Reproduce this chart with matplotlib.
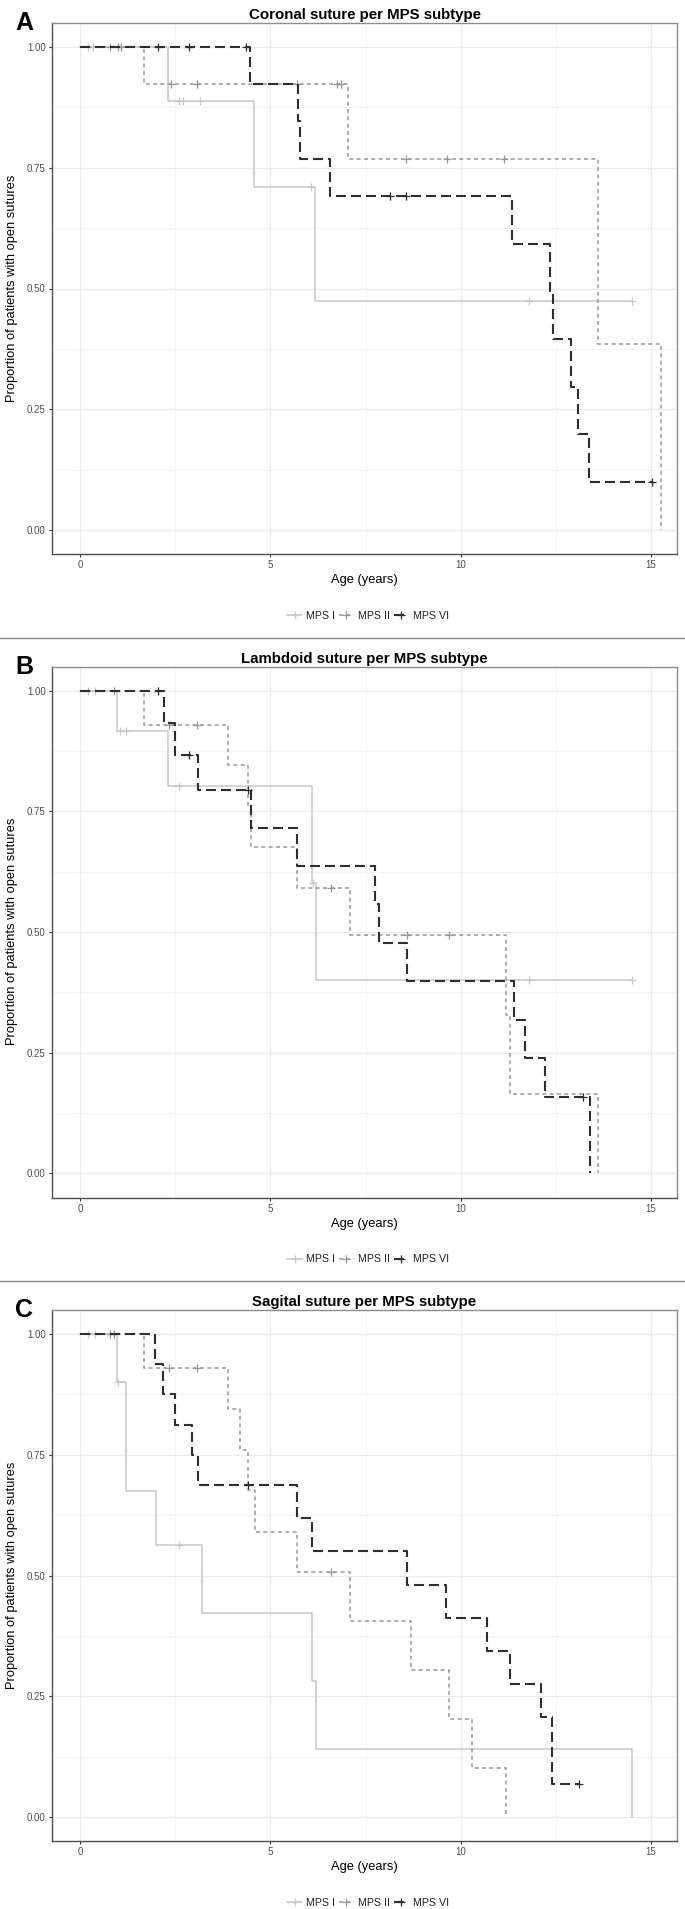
import numpy as np
import matplotlib
matplotlib.use('Agg')
import matplotlib.pyplot as plt
from matplotlib.lines import Line2D

plt.rcParams['font.family'] = ['Liberation Sans', 'DejaVu Sans']

# ---- data (years, survival after each step) ----
titles = ['Coronal suture per MPS subtype',
          'Lambdoid suture per MPS subtype',
          'Sagital suture per MPS subtype']
letters = ['A', 'B', 'C']
groups = ['MPS I', 'MPS II', 'MPS VI']

# Coronal
cor_t1 = [0, 2.3, 4.57, 6.17, 14.5]
cor_s1 = [1, 0.889, 0.711, 0.474, 0.474]
cor_c1 = [0.2, 0.35, 2.6, 2.7, 3.15, 6.06, 11.8, 14.5]
cor_t2 = [0, 1.68, 7.05, 13.6, 15.26]
cor_s2 = [1, 0.923, 0.769, 0.385, 0]
cor_c2 = [0.8, 1.0, 1.07, 2.38, 3.07, 5.7, 6.75, 6.85, 8.56, 9.63, 11.14]
cor_t3 = [0, 4.47, 5.72, 5.77, 6.57, 11.35, 12.35, 12.42, 12.9, 13.07, 13.36, 15.03]
cor_s3 = [1, 0.923, 0.846, 0.769, 0.692, 0.593, 0.494, 0.395, 0.296, 0.198, 0.099, 0.099]
cor_c3 = [2.06, 2.86, 4.37, 8.14, 8.56, 15.03]

# Lambdoid
lam_t1 = [0, 0.98, 2.3, 6.1, 6.2, 14.5]
lam_s1 = [1, 0.917, 0.802, 0.602, 0.401, 0.401]
lam_c1 = [0.2, 0.4, 1.05, 1.2, 2.6, 6.12, 11.8, 14.5]
lam_t2 = [0, 1.68, 3.88, 4.4, 4.5, 5.7, 7.1, 11.2, 11.3, 13.6]
lam_s2 = [1, 0.929, 0.845, 0.760, 0.676, 0.591, 0.493, 0.329, 0.164, 0]
lam_c2 = [0.9, 2.35, 3.07, 6.6, 8.6, 9.7]
lam_t3 = [0, 2.2, 2.5, 3.1, 4.5, 5.7, 7.75, 7.85, 8.6, 11.4, 11.7, 12.2, 13.4]
lam_s3 = [1, 0.933, 0.867, 0.795, 0.716, 0.637, 0.557, 0.477, 0.398, 0.318, 0.239, 0.159, 0]
lam_c3 = [2.05, 2.85, 4.4, 13.2]

# Sagital
sag_t1 = [0, 0.98, 1.2, 2.0, 3.2, 6.1, 6.2, 14.5]
sag_s1 = [1, 0.9, 0.675, 0.5625, 0.422, 0.281, 0.141, 0]
sag_c1 = [0.2, 0.4, 1.0, 2.6]
sag_t2 = [0, 1.68, 3.9, 4.2, 4.4, 4.6, 5.7, 7.1, 8.7, 9.7, 10.3, 11.2]
sag_s2 = [1, 0.929, 0.845, 0.760, 0.676, 0.591, 0.507, 0.406, 0.304, 0.203, 0.101, 0]
sag_c2 = [0.8, 0.9, 2.35, 3.07, 6.6]
sag_t3 = [0, 1.97, 2.17, 2.5, 2.95, 3.1, 5.7, 6.1, 8.6, 9.6, 10.7, 11.3, 12.1, 12.4, 13.1]
sag_s3 = [1, 0.9375, 0.875, 0.8125, 0.75, 0.6875, 0.619, 0.55, 0.481, 0.413, 0.344,
          0.275, 0.206, 0.069, 0.069]
sag_c3 = [4.4, 13.1]

panels = [
    [(cor_t1, cor_s1, cor_c1), (cor_t2, cor_s2, cor_c2), (cor_t3, cor_s3, cor_c3)],
    [(lam_t1, lam_s1, lam_c1), (lam_t2, lam_s2, lam_c2), (lam_t3, lam_s3, lam_c3)],
    [(sag_t1, sag_s1, sag_c1), (sag_t2, sag_s2, sag_c2), (sag_t3, sag_s3, sag_c3)],
]

colors = ['#c8c8c8', '#979797', '#2e2e2e']
styles = ['-', (0, (2.6, 2.2)), (0, (4.8, 2.4))]
widths = [1.1, 1.1, 1.5]

W, H = 685, 1909
fig = plt.figure(figsize=(W / 100, H / 100), dpi=100)


def fx(px):
    return px / W


def fy(px):
    return 1 - px / H


def step_value(t, s, x):
    i = np.searchsorted(t, x, side='right') - 1
    return s[max(i, 0)]


for p in range(3):
    off = p * 643.5
    ax = fig.add_axes([fx(52), fy(554 + off), fx(625), 531 / H])
    ax.set_xlim(-0.7355, 15.68)
    ax.set_ylim(-0.0497, 1.0497)

    # grid like theme_bw
    ax.set_xticks([0, 5, 10, 15])
    ax.set_xticks([2.5, 7.5, 12.5], minor=True)
    ax.set_yticks([0, 0.25, 0.5, 0.75, 1.0])
    ax.set_yticks([0.125, 0.375, 0.625, 0.875], minor=True)
    ax.set_yticklabels(['0.00', '0.25', '0.50', '0.75', '1.00'])
    ax.grid(True, which='major', color='#ebebeb', linewidth=0.9)
    ax.grid(True, which='minor', color='#f3f3f3', linewidth=0.6)
    ax.set_axisbelow(True)
    ax.tick_params(which='major', length=2.5, width=0.8, color='#333333',
                   labelsize=7, labelcolor='#4d4d4d', pad=2)
    ax.tick_params(which='minor', length=0)
    for side in ['left', 'bottom']:
        ax.spines[side].set_color('#4d4d4d')
        ax.spines[side].set_linewidth(1.0)
    for side in ['top', 'right']:
        ax.spines[side].set_color('#8c8c8c')
        ax.spines[side].set_linewidth(1.0)

    for g in range(3):
        t, s, c = panels[p][g]
        ax.step(t, s, where='post', color=colors[g], linestyle=styles[g],
                linewidth=widths[g], zorder=3 + g)
        cy = [step_value(np.array(t), s, x) for x in c]
        ax.plot(c, cy, linestyle='none', marker='+', markersize=5.5,
                markeredgewidth=0.9, color=colors[g], zorder=3 + g)

    fig.text(fx(364.5), fy(15 + off), titles[p], ha='center', va='center',
             fontsize=10.8, fontweight='bold')
    fig.text(fx(15), fy(23 + off), letters[p], ha='left', va='center',
             fontsize=18, fontweight='bold')
    fig.text(fx(12), fy(288 + off), 'Proportion of patients with open sutures',
             rotation=90, ha='center', va='center', fontsize=9.3)
    fig.text(fx(364.5), fy(580 + off), 'Age (years)', ha='center', va='center',
             fontsize=9.3)

    handles = [Line2D([], [], color=colors[g], linestyle=styles[g], linewidth=widths[g],
                      marker='+', markersize=5.5, markeredgewidth=0.9)
               for g in range(3)]
    ax.legend(handles, groups, loc='center', ncol=3, frameon=False, fontsize=7.7,
              bbox_to_anchor=(fx(368), fy(616 + off)), bbox_transform=fig.transFigure,
              handlelength=1.4, handletextpad=0.37, columnspacing=0.37,
              labelcolor='#222222')

# separators between panels
for ysep in [638, 1281]:
    fig.add_artist(Line2D([0, 1], [fy(ysep), fy(ysep)], transform=fig.transFigure,
                          color='#8a8a8a', linewidth=1.0))

fig.savefig('out.png', dpi=100, facecolor='white')
